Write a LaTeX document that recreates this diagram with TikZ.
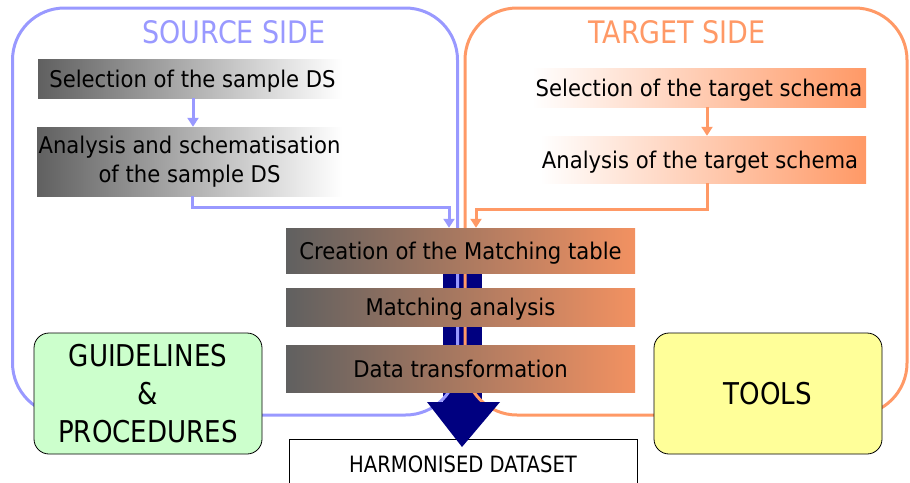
\documentclass[tikz,border=0pt]{standalone}
\usepackage{fontspec}
\setmainfont[FakeStretch=0.92]{DejaVu Sans}
\newfontfamily\capsfont[FakeStretch=0.87]{DejaVu Sans}
\usetikzlibrary{arrows.meta}
\definecolor{srcblue}{HTML}{9999FF}
\definecolor{tgtorange}{HTML}{FF9966}
\definecolor{navyblue}{HTML}{000080}
\definecolor{boxgray}{HTML}{606060}
\definecolor{guidegreen}{HTML}{CCFFCC}
\definecolor{toolyellow}{HTML}{FFFF99}
\begin{document}
\begin{tikzpicture}[x=1pt,y=-1pt,
  sidebox/.style={line width=3pt, rounded corners=52pt},
  bodytext/.style={font=\fontsize{23}{29}\selectfont},
  oneline/.style={text height=17pt, text depth=0pt},
  srcstep/.style={bodytext, inner sep=0pt, align=center, left color=boxgray, right color=white},
  tgtstep/.style={bodytext, oneline, inner sep=0pt, align=center, left color=white, right color=tgtorange},
  midstep/.style={bodytext, oneline, inner sep=0pt, align=center, left color=boxgray, right color=tgtorange!95!black, minimum width=349pt},
  sidenote/.style={draw=black, line width=0.8pt, rounded corners=15pt, minimum width=228pt, minimum height=121pt, align=center, inner sep=0pt},
  srcarrow/.style={srcblue, line width=3pt, -{Triangle[width=11pt,length=9pt]}},
  tgtarrow/.style={tgtorange, line width=3pt, -{Triangle[width=11pt,length=9pt]}},
]
\useasboundingbox (0,0) rectangle (910,482);

% shaft of the big arrow
\fill[navyblue] (443,250) rectangle (482,403);

% side frames
\draw[sidebox, srcblue] (12.5,8) rectangle (457.5,415);
\draw[sidebox, tgtorange] (465,8) rectangle (907,415);

% result box
\node (hd) [draw=black, line width=0.8pt, fill=white, anchor=north, minimum width=348pt,
  inner ysep=17pt, text height=16pt, text depth=20pt,
  font=\capsfont\fontsize{22.5}{26}\selectfont] at (463,439) {HARMONISED DATASET};

% head of the big arrow
\fill[navyblue] (427,402) -- (500,402) -- (462,447) -- cycle;

% titles
\node (srctitle) [anchor=base, text=srcblue, font=\capsfont\fontsize{31}{36}\selectfont] at (234,43) {SOURCE SIDE};
\node (tgttitle) [anchor=base, text=tgtorange, font=\capsfont\fontsize{31}{36}\selectfont] at (677,43) {TARGET SIDE};

% source steps
\node (s1) [srcstep, oneline, minimum width=304pt, minimum height=39pt] at (190,78.5) {\hspace*{5pt}Selection of the sample DS};
\node (s2) [srcstep, minimum width=305pt, minimum height=69pt] at (189.5,161.5) {\raisebox{-2pt}{Analysis and schematisation}\\\raisebox{-2pt}{of the sample DS}};

% target steps
\node (t1) [tgtstep, minimum width=334pt, minimum height=39pt] at (699,87.5) {Selection of the target schema};
\node (t2) [tgtstep, minimum width=326pt, minimum height=47pt] at (703,159.5) {Analysis of the target schema\hspace*{6pt}};

% common steps
\node (m1) [midstep, minimum height=45pt] at (460.5,250.5) {Creation of the Matching table};
\node (m2) [midstep, minimum height=38pt] at (460.5,307) {Matching analysis};
\node (m3) [midstep, minimum height=47pt] at (460.5,368.5) {Data transformation};

% side notes
\node (guide) [sidenote, fill=guidegreen, font=\capsfont\fontsize{30}{38}\selectfont] at (148,393.5) {GUIDELINES\\\&\\PROCEDURES};
\node (tools) [sidenote, fill=toolyellow, font=\capsfont\fontsize{30}{38}\selectfont] at (768,393.5) {TOOLS};

% connectors
\draw[srcarrow] ([xshift=3pt]s1.south) -- ([xshift=3.5pt]s2.north);
\draw[srcarrow] ([xshift=2.5pt]s2.south) -- ++(0,11) -| ([xshift=-11.5pt]m1.north);
\draw[tgtarrow] ([xshift=8pt]t1.south) -- ([xshift=4pt]t2.north);
\draw[tgtarrow] ([xshift=4pt]t2.south) -- ++(0,26) -| ([xshift=15.5pt]m1.north);
\end{tikzpicture}
\end{document}
